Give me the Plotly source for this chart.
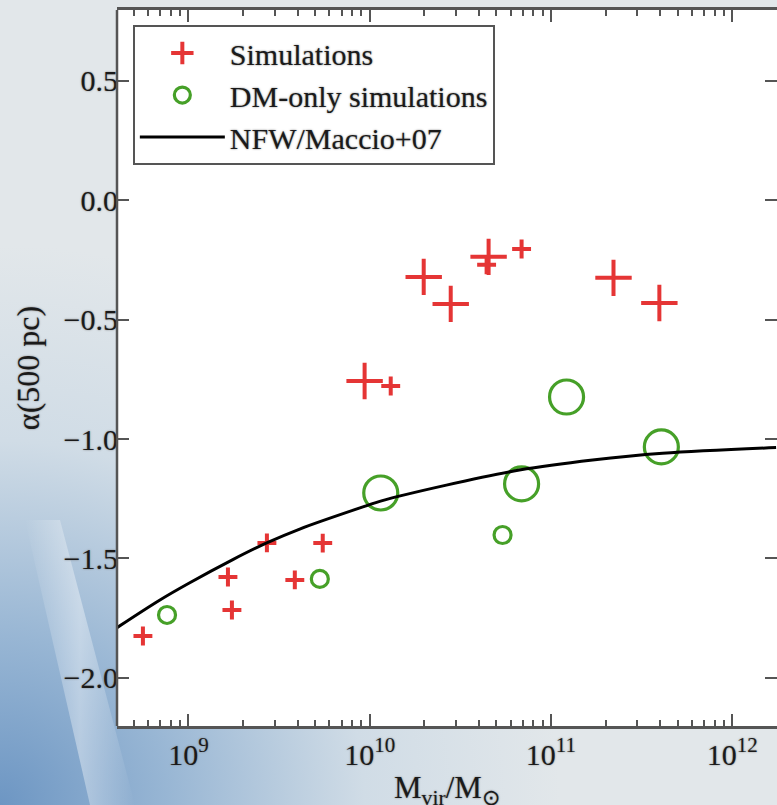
import base64
import plotly.graph_objects as go

# ---------------- data ----------------
sim_logm = [8.749, 9.218, 9.240, 9.433, 9.587, 9.741, 9.972, 10.116,
            10.298, 10.447, 10.656, 10.645, 10.838, 11.345, 11.598]
sim_alpha = [-1.825, -1.578, -1.716, -1.435, -1.590, -1.436, -0.757, -0.778,
             -0.321, -0.434, -0.237, -0.270, -0.204, -0.325, -0.430]
sim_res = ["low", "low", "low", "low", "low", "low", "high", "low",
           "high", "high", "high", "low", "low", "high", "high"]

dm_logm = [8.882, 9.725, 10.061, 10.733, 10.838, 11.086, 11.609]
dm_alpha = [-1.737, -1.586, -1.226, -1.402, -1.188, -0.824, -1.033]
dm_res = ["low", "low", "high", "low", "high", "high", "high"]

nfw_logm = [8.606, 8.843, 9.0, 9.245, 9.432, 9.614, 9.98, 10.06,
            10.423, 10.826, 11.23, 11.616, 12.242]
nfw_alpha = [-1.79, -1.674, -1.605, -1.505, -1.435, -1.377, -1.28, -1.26,
             -1.193, -1.130, -1.088, -1.060, -1.036]

x_tick_exp = [9, 10, 11, 12]
y_ticks = [0.5, 0.0, -0.5, -1.0, -1.5, -2.0]

# ---------------- styling ----------------
RED = "#e53535"
GREEN = "#46a028"
FRAME = "#555555"
SERIF = "Liberation Serif, Times New Roman, serif"
TXT = "#1a1a1a"
SHADOW = "0px 0px 2px #7a7a7a"

cross_size = {"low": 13.5, "high": 26}
circ_size = {"low": 17, "high": 34}

x_range = [8.606, 12.247]
y_range = [-2.202, 0.797]

fig = go.Figure()

fig.add_trace(go.Scatter(
    x=[10 ** v for v in sim_logm], y=sim_alpha, mode="markers",
    name="Simulations", legendgroup="a",
    marker=dict(symbol="cross-thin", size=[cross_size[r] for r in sim_res],
                line=dict(color=RED, width=4), color=RED, opacity=1),
))
fig.add_trace(go.Scatter(
    x=[10 ** v for v in dm_logm], y=dm_alpha, mode="markers",
    name="DM-only simulations", legendgroup="b",
    marker=dict(symbol="circle-open", size=[circ_size[r] for r in dm_res],
                line=dict(color=GREEN, width=3.2), color=GREEN, opacity=1),
))
fig.add_trace(go.Scatter(
    x=[10 ** v for v in nfw_logm], y=nfw_alpha, mode="lines",
    name="NFW/Maccio+07", legendgroup="c",
    line=dict(color="black", width=3, shape="spline", smoothing=1.0),
))

# minor ticks for log axis
minor_vals = []
for e in range(8, 13):
    for m in range(2, 10):
        v = m * 10 ** e
        if 10 ** x_range[0] <= v <= 10 ** x_range[1]:
            minor_vals.append(v)

tickfont = dict(family=SERIF, size=30, color=TXT, shadow=SHADOW)

fig.update_xaxes(
    type="log", range=x_range, automargin=False,
    tickvals=[10 ** e for e in x_tick_exp],
    ticktext=[f"10<sup>{e}</sup>" for e in x_tick_exp],
    ticks="inside", ticklen=12, tickwidth=2, tickcolor=FRAME,
    showline=True, linecolor=FRAME, linewidth=2.5, mirror="ticks",
    showgrid=False, zeroline=False,
    minor=dict(tickvals=minor_vals, ticks="inside", ticklen=6, tickwidth=1.5,
               tickcolor=FRAME, showgrid=False),
    tickfont=tickfont,
)
fig.update_yaxes(
    range=y_range, tickvals=y_ticks, tickformat=".1f", automargin=False,
    ticks="inside", ticklen=12, tickwidth=2, tickcolor=FRAME,
    showline=False, mirror="ticks", ticklabelstandoff=-2,
    showgrid=False, zeroline=False,
    tickfont=tickfont,
    title=dict(text="α(500 pc)", font=dict(family=SERIF, size=32, color=TXT, shadow=SHADOW),
               standoff=14),
)

# x-axis title (sits partly below the visible page edge, as in the reference)
fig.add_annotation(
    text="M<sub>vir</sub>/M<sub>⊙</sub>", xref="paper", yref="paper",
    x=0.5, y=-0.059, xanchor="center", yanchor="top", showarrow=False,
    font=dict(family=SERIF, size=31, color=TXT, shadow=SHADOW),
)

# white plotting area + left frame line (right side is cut off in the reference)
fig.add_shape(type="rect", xref="paper", yref="paper", x0=0, x1=1, y0=0, y1=1,
              line=dict(width=0), fillcolor="white", layer="below")
fig.add_shape(type="line", xref="paper", yref="paper", x0=0, x1=0, y0=0, y1=1,
              line=dict(color=FRAME, width=2.5))

# background gradient (slide backdrop)
svg = """<svg xmlns='http://www.w3.org/2000/svg' width='777' height='805' viewBox='0 0 777 805' preserveAspectRatio='none'>
<defs>
<radialGradient id='g' cx='0' cy='805' r='560' gradientUnits='userSpaceOnUse'>
<stop offset='0' stop-color='#6d96c3'/>
<stop offset='0.3' stop-color='#98b6d4'/>
<stop offset='0.65' stop-color='#d0dce6'/>
<stop offset='1' stop-color='#e2e7ea'/>
</radialGradient>
<linearGradient id='s' x1='0' y1='0' x2='1' y2='0'>
<stop offset='0' stop-color='#ffffff' stop-opacity='0'/>
<stop offset='0.5' stop-color='#ffffff' stop-opacity='0.4'/>
<stop offset='1' stop-color='#ffffff' stop-opacity='0'/>
</linearGradient>
</defs>
<rect width='777' height='805' fill='#e2e7ea'/>
<rect width='777' height='805' fill='url(#g)'/>
<polygon points='25,520 60,520 135,805 90,805' fill='url(#s)'/>
</svg>"""
uri = "data:image/svg+xml;base64," + base64.b64encode(svg.encode()).decode()

L, R, T, B = 117, 0, 10, 79
W, H = 777, 805
pw, ph = W - L - R, H - T - B
fig.add_layout_image(dict(
    source=uri, xref="paper", yref="paper",
    x=-L / pw, y=1 + T / ph, sizex=W / pw, sizey=H / ph,
    xanchor="left", yanchor="top", sizing="stretch", layer="below",
))

fig.update_layout(
    width=W, height=H,
    margin=dict(l=L, r=R, t=T, b=B, autoexpand=False),
    paper_bgcolor="#e2e7ea", plot_bgcolor="white",
    legend=dict(
        x=0.024, y=0.979, xanchor="left", yanchor="top",
        bgcolor="white", bordercolor=FRAME, borderwidth=2,
        font=dict(family=SERIF, size=30, color=TXT, shadow=SHADOW),
        tracegroupgap=0, itemwidth=85,
    ),
)

fig.write_html("out.html", config={"displayModeBar": False},
               post_script="document.body.style.margin='0';document.body.style.overflow='hidden';")
